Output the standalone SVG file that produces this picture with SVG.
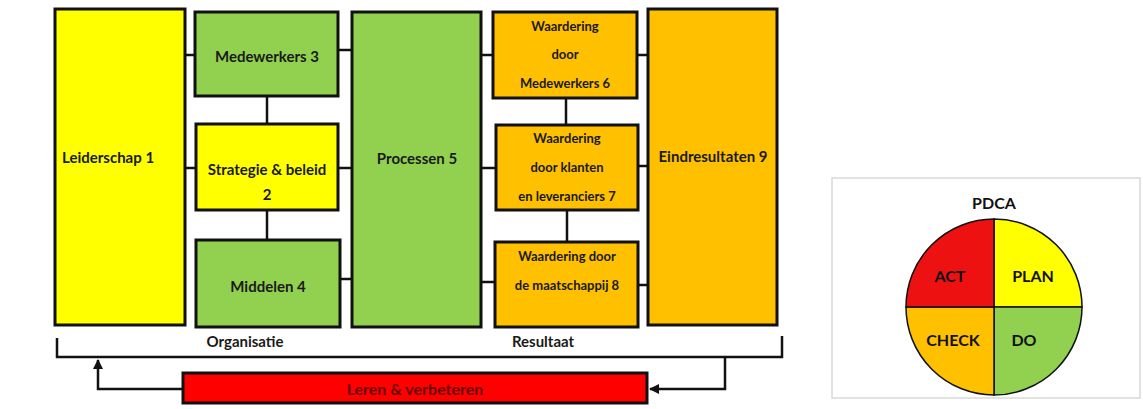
<svg xmlns="http://www.w3.org/2000/svg" width="1143" height="409" viewBox="0 0 1143 409">
<defs>
<style>
.box{stroke:#111;stroke-width:3}
.y{fill:#FFFF00}.g{fill:#92D050}.o{fill:#FFC000}.r{fill:#FF0000}
.ln{stroke:#111;stroke-width:2.5;fill:none}
text{font-family:Lato,"Open Sans","Liberation Sans",sans-serif;font-weight:bold;fill:#1a1a1a;text-anchor:middle}
.t15{font-size:15px}.t13{font-size:13px}.t16{font-size:16px}
.q{stroke:#111;stroke-width:1.5}
</style>
<marker id="ah" viewBox="0 0 10 10" refX="9" refY="5" markerWidth="4" markerHeight="4" orient="auto-start-reverse">
<path d="M0,0 L10,5 L0,10 z" fill="#111"/>
</marker>
</defs>
<rect width="1143" height="409" fill="#fff"/>
<g id="connectors">
<line class="ln" x1="185" y1="55" x2="195" y2="55"/>
<line class="ln" x1="185" y1="168" x2="196" y2="168"/>
<line class="ln" x1="338" y1="50" x2="352" y2="50"/>
<line class="ln" x1="338" y1="168" x2="352" y2="168"/>
<line class="ln" x1="340" y1="279" x2="352" y2="279"/>
<line class="ln" x1="267" y1="96" x2="267" y2="124"/>
<line class="ln" x1="267" y1="210" x2="267" y2="240"/>
<line class="ln" x1="481" y1="55" x2="493" y2="55"/>
<line class="ln" x1="481" y1="168" x2="496" y2="168"/>
<line class="ln" x1="481" y1="282" x2="495" y2="282"/>
<line class="ln" x1="637" y1="55" x2="648" y2="55"/>
<line class="ln" x1="638" y1="166" x2="648" y2="166"/>
<line class="ln" x1="638" y1="285" x2="648" y2="285"/>
<line class="ln" x1="566" y1="98" x2="566" y2="125"/>
<line class="ln" x1="567" y1="210" x2="567" y2="242"/>
<polyline class="ln" points="57,338 57,357 782,357 782,336"/>
<polyline class="ln" points="183,389 98,389 98,360" marker-end="url(#ah)"/>
<polyline class="ln" points="725,357 725,389 650,389" marker-end="url(#ah)"/>
</g>
<g id="leiderschap"><rect class="box y" x="55" y="9" width="130" height="316"/><text class="t15" x="62" y="163" style="text-anchor:start">Leiderschap 1</text></g>
<g id="medewerkers"><rect class="box g" x="195" y="12" width="143" height="84"/><text class="t15" x="267" y="62">Medewerkers 3</text></g>
<g id="strategie"><rect class="box y" x="196" y="124" width="142" height="86"/><text class="t15" x="267" y="175">Strategie &amp; beleid</text><text class="t15" x="267" y="200">2</text></g>
<g id="middelen"><rect class="box g" x="196" y="240" width="144" height="87"/><text class="t15" x="268" y="292">Middelen 4</text></g>
<g id="processen"><rect class="box g" x="352" y="12" width="129" height="315"/><text class="t15" x="417" y="164">Processen 5</text></g>
<g id="waardering6"><rect class="box o" x="493" y="12" width="144" height="86"/><text class="t13" x="565" y="31">Waardering</text><text class="t13" x="565" y="59">door</text><text class="t13" x="565" y="88">Medewerkers 6</text></g>
<g id="waardering7"><rect class="box o" x="496" y="125" width="142" height="85"/><text class="t13" x="567" y="143">Waardering</text><text class="t13" x="567" y="172">door klanten</text><text class="t13" x="567" y="201">en leveranciers 7</text></g>
<g id="waardering8"><rect class="box o" x="495" y="242" width="143" height="85"/><text class="t13" x="567" y="261">Waardering door</text><text class="t13" x="567" y="290">de maatschappij 8</text></g>
<g id="eindresultaten"><rect class="box o" x="648" y="9" width="129" height="316"/><text class="t15" x="713" y="162">Eindresultaten 9</text></g>
<g id="labels"><text class="t15" x="245" y="347">Organisatie</text><text class="t15" x="543" y="347">Resultaat</text></g>
<g id="leren"><rect class="box r" x="183" y="373" width="464" height="30"/><text class="t16" x="415" y="395" style="fill:#6a0000">Leren &amp; verbeteren</text></g>
<g id="pdca">
<rect x="832" y="178" width="308" height="220" fill="#fff" stroke="#d9d9d9" stroke-width="1.5"/>
<text class="t16" x="994" y="209" style="fill:#111">PDCA</text>
<path class="q" d="M994,307 L994,219 A88,88 0 0 1 1082,307 Z" fill="#FFFF00"/>
<path class="q" d="M994,307 L1082,307 A88,88 0 0 1 994,395 Z" fill="#92D050"/>
<path class="q" d="M994,307 L994,395 A88,88 0 0 1 906,307 Z" fill="#FFC000"/>
<path class="q" d="M994,307 L906,307 A88,88 0 0 1 994,219 Z" fill="#EE1111"/>
<text class="t16" x="950" y="282" style="fill:#111">ACT</text>
<text class="t16" x="1033" y="282" style="fill:#111">PLAN</text>
<text class="t16" x="953" y="346" style="fill:#111">CHECK</text>
<text class="t16" x="1024" y="346" style="fill:#111">DO</text>
</g>
</svg>
